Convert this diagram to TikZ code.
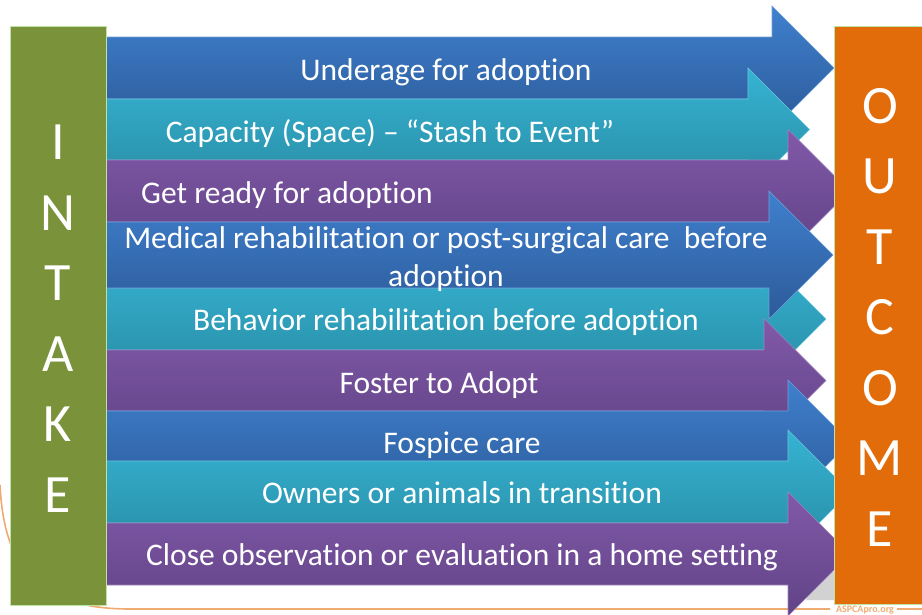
\documentclass[tikz,border=0pt]{standalone}
\usepackage{fontspec}
\setmainfont{Carlito}[Ligatures=NoCommon]
\definecolor{bluetop}{HTML}{3F80CE}
\definecolor{bluebot}{HTML}{2C5A98}
\definecolor{tealtop}{HTML}{36B3D3}
\definecolor{tealbot}{HTML}{288CA4}
\definecolor{purptop}{HTML}{8159A8}
\definecolor{purpbot}{HTML}{614386}
\definecolor{intakegreen}{HTML}{7A923A}
\definecolor{outorange}{HTML}{E36C0A}
\definecolor{lightgreen}{HTML}{BDE3A6}
\definecolor{lineorange}{HTML}{EFAA72}
\newcommand\flowarrow[6]{%
  \shade[top color=#5,bottom color=#6,draw=#5!75!white,line width=0.6pt]
    (106,{#1-#2}) -- (#4,{#1-#2}) -- (#4,{#1-#3}) -- ({#4+#3},#1)
    -- (#4,{#1+#3}) -- (#4,{#1+#2}) -- (106,{#1+#2}) -- cycle;}
\begin{document}
\begin{tikzpicture}[x=1pt,y=-1pt,
  label text/.style={text=white,font=\fontsize{31.5}{38}\selectfont,anchor=base,inner sep=0pt,align=center},
  big letters/.style={text=white,font=\fontsize{54}{70.5}\selectfont,anchor=base,inner sep=0pt,align=center},
  side box/.style={draw=lightgreen,line width=1pt},
  deco line/.style={draw=lineorange,line width=1.6pt}]
\useasboundingbox (0,0) rectangle (922,614);
% background decoration
\draw[deco line] (0,485) .. controls (4,565) and (35,609) .. (130,609) -- (830,609);
\draw[deco line] (897,609) -- (922,609);
\fill[gray!35] (806,600) -- (818,572) -- (834,572) -- (834,600) -- cycle;
\node[text=lineorange,font=\fontsize{10}{10}\selectfont\bfseries,anchor=base,inner sep=0pt] (site) at (865,612) {ASPCApro.org};
% arrows
\flowarrow{68}{31}{62}{772}{bluetop}{bluebot}
\flowarrow{129.5}{30.5}{61.5}{748}{tealtop}{tealbot}
\flowarrow{191}{31}{61.5}{788}{purptop}{purpbot}
\flowarrow{319}{31}{61}{765}{tealtop}{tealbot}
\flowarrow{255}{33}{64}{769}{bluetop}{bluebot}
\flowarrow{380.5}{30.5}{62}{764}{purptop}{purpbot}
\flowarrow{442}{31}{62}{788}{bluetop}{bluebot}
\flowarrow{492}{31}{62}{788}{tealtop}{tealbot}
\flowarrow{554}{31}{62}{788}{purptop}{purpbot}
% side boxes
\fill[intakegreen,side box] (10,26) rectangle (106,605);
\fill[outorange,side box] (834,26) rectangle (926,604);
\node[big letters] (intake) at (58,512) {I\\N\\T\\A\\K\\E};
\node[big letters] (outcome) at (880,546) {O\\U\\T\\C\\O\\M\\E};
% labels
\node[label text] (t1) at (446,80) {Underage for adoption};
\node[label text] (t2) at (390,142) {Capacity (Space) – “Stash to Event”};
\node[label text] (t3) at (287,203) {Get ready for adoption};
\node[label text] (t4) at (446,286) {Medical rehabilitation or post-surgical care\ \ before\\adoption};
\node[label text] (t5) at (446,330) {Behavior rehabilitation before adoption};
\node[label text] (t6) at (439,393) {Foster to Adopt};
\node[label text] (t7) at (462,453) {Fospice care};
\node[label text] (t8) at (462,503) {Owners or animals in transition};
\node[label text] (t9) at (462,565) {Close observation or evaluation in a home setting};
\end{tikzpicture}
\end{document}
